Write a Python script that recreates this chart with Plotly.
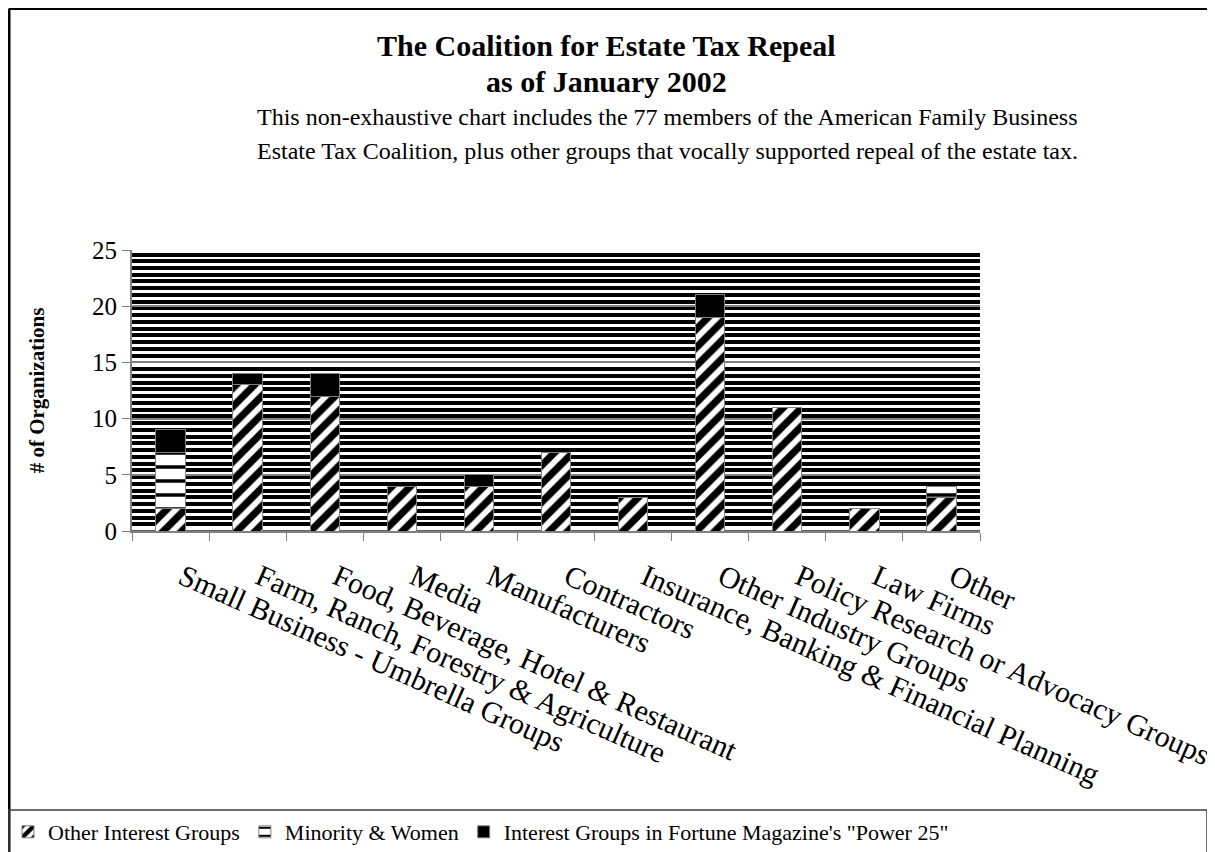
import plotly.graph_objects as go

categories = [
    "Small Business - Umbrella Groups",
    "Farm, Ranch, Forestry & Agriculture",
    "Food, Beverage, Hotel & Restaurant",
    "Media",
    "Manufacturers",
    "Contractors",
    "Insurance, Banking & Financial Planning",
    "Other Industry Groups",
    "Policy Research or Advocacy Groups",
    "Law Firms",
    "Other",
]
other_interest = [2, 13, 12, 4, 4, 7, 3, 19, 11, 2, 3]
minority_women = [5, 0, 0, 0, 0, 0, 0, 0, 0, 0, 1]
power25 = [2, 1, 2, 0, 1, 0, 0, 2, 0, 0, 0]

# page has an 8px body margin; work in screen pixels and convert
OFF = 8
W, H = 1215 - OFF, 852 - OFF
PLOT_L, PLOT_R, PLOT_T, PLOT_B = 132, 980, 250, 531  # screen pixels
L = PLOT_L - OFF
T = PLOT_T - OFF
PW = PLOT_R - PLOT_L
PH = PLOT_B - PLOT_T
R = W - L - PW
B = H - T - PH


def px2x(px):
    return (px - PLOT_L) / PW


def px2y(py):
    return (PLOT_B - py) / PH


SERIF = "Liberation Serif, Times New Roman, serif"
outline = dict(color="#808080", width=1)

fig = go.Figure()
fig.add_trace(go.Bar(
    name="Other Interest Groups", x=categories, y=other_interest,
    marker=dict(color="white", line=outline,
                pattern=dict(shape="/", fgcolor="black", bgcolor="white", fgopacity=1,
                             size=13, solidity=0.55)),
))
fig.add_trace(go.Bar(
    name="Minority & Women", x=categories, y=minority_women,
    marker=dict(color="white", line=outline,
                pattern=dict(shape="-", fgcolor="black", bgcolor="white", fgopacity=1,
                             size=14, solidity=0.25)),
))
fig.add_trace(go.Bar(
    name="Interest Groups in Fortune Magazine's \"Power 25\"", x=categories, y=power25,
    marker=dict(color="black", line=outline),
))

fig.update_layout(
    width=W, height=H,
    margin=dict(l=L, r=R, t=T, b=B, autoexpand=False),
    paper_bgcolor="white", plot_bgcolor="white",
    barmode="stack", bargap=0.62,
    font=dict(family=SERIF, color="black"),
    showlegend=True,
    legend=dict(orientation="h", x=px2x(8), y=px2y(811),
                xanchor="left", yanchor="top",
                font=dict(size=22, family=SERIF), bgcolor="rgba(0,0,0,0)",
                traceorder="normal", itemwidth=30),
)

fig.update_yaxes(
    range=[0, 25], dtick=5, tick0=0,
    ticks="outside", ticklen=8, tickcolor="#808080", tickwidth=1,
    showline=True, linecolor="#808080", linewidth=2,
    showgrid=True, gridcolor="#808080", gridwidth=2,
    zeroline=True, zerolinecolor="#606060", zerolinewidth=2,
    tickfont=dict(size=25, family=SERIF),
    title=dict(text="<b># of Organizations</b>", font=dict(size=21, family=SERIF), standoff=42),
    minor=dict(dtick=0.6, tick0=0, showgrid=True, gridcolor="black", gridwidth=3.6, ticks=""),
)
fig.update_xaxes(
    type="category", tickson="boundaries",
    ticks="outside", ticklen=8, tickcolor="#808080", tickwidth=1,
    showline=True, linecolor="#808080", linewidth=2,
    tickangle=24, tickfont=dict(size=30, family=SERIF),
    ticklabelstandoff=15, ticklabelshift=12,
    showgrid=False,
)

# Title and subtitle
fig.add_annotation(text="<b>The Coalition for Estate Tax Repeal</b>", xref="paper", yref="paper",
                   x=px2x(606), y=px2y(46), xanchor="center", yanchor="middle", showarrow=False,
                   font=dict(size=30, family=SERIF))
fig.add_annotation(text="<b>as of January 2002</b>", xref="paper", yref="paper",
                   x=px2x(606), y=px2y(82), xanchor="center", yanchor="middle", showarrow=False,
                   font=dict(size=30, family=SERIF))
fig.add_annotation(text="This non-exhaustive chart includes the 77 members of the American Family Business",
                   xref="paper", yref="paper", x=px2x(667), y=px2y(117), xanchor="center", yanchor="middle",
                   showarrow=False, font=dict(size=24, family=SERIF))
fig.add_annotation(text="Estate Tax Coalition, plus other groups that vocally supported repeal of the estate tax.",
                   xref="paper", yref="paper", x=px2x(667), y=px2y(151), xanchor="center", yanchor="middle",
                   showarrow=False, font=dict(size=24, family=SERIF))

# Chart border and legend box
fig.add_shape(type="line", xref="paper", yref="paper", x0=px2x(9), x1=px2x(1230), y0=px2y(8.5), y1=px2y(8.5),
              line=dict(color="black", width=3))
fig.add_shape(type="line", xref="paper", yref="paper", x0=px2x(9), x1=px2x(9), y0=px2y(8.5), y1=px2y(870),
              line=dict(color="black", width=3))
fig.add_shape(type="rect", xref="paper", yref="paper", x0=px2x(9), x1=px2x(1207), y0=px2y(810), y1=px2y(880),
              line=dict(color="#404040", width=1.5), fillcolor="rgba(0,0,0,0)")

fig.write_html("out.html")
